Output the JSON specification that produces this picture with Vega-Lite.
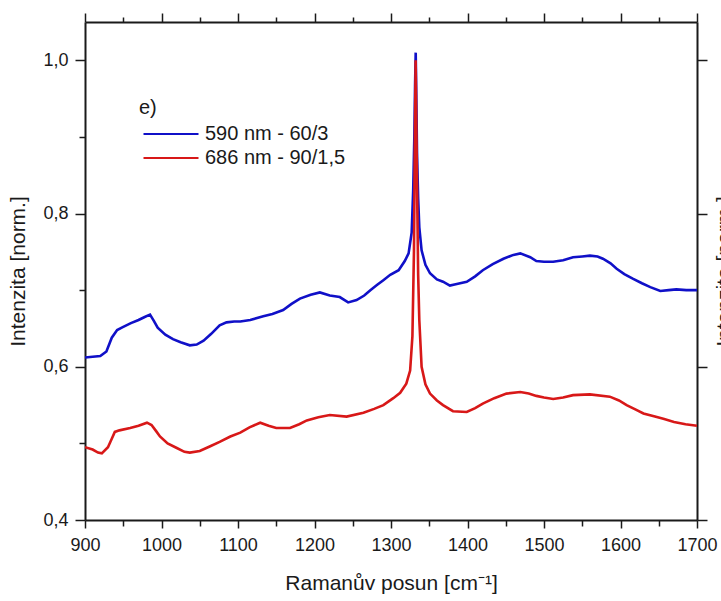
{
  "$schema": "https://vega.github.io/schema/vega-lite/v6.json",
  "autosize": "none",
  "width": 612,
  "height": 498,
  "padding": {"left": 85, "top": 22, "right": 24, "bottom": 81},
  "background": "white",
  "config": {
    "font": "Liberation Sans",
    "view": {"stroke": null},
    "axis": {"grid": false, "domainColor": "#1a1a1a", "tickColor": "#1a1a1a", "labelColor": "#1a1a1a", "titleColor": "#1a1a1a", "domainWidth": 2, "tickWidth": 1.5, "labelFont": "Liberation Sans", "titleFont": "Liberation Sans", "titleFontWeight": "normal", "labelFontSize": 18, "titleFontSize": 21},
    "legend": {"labelFont": "Liberation Sans", "titleFont": "Liberation Sans"}
  },
  "data": {"values": [
    {"s": "590 nm - 60/3", "x": 900, "y": 0.612},
    {"s": "590 nm - 60/3", "x": 910, "y": 0.613},
    {"s": "590 nm - 60/3", "x": 920, "y": 0.614},
    {"s": "590 nm - 60/3", "x": 928, "y": 0.620},
    {"s": "590 nm - 60/3", "x": 935, "y": 0.638},
    {"s": "590 nm - 60/3", "x": 942, "y": 0.648},
    {"s": "590 nm - 60/3", "x": 950, "y": 0.652},
    {"s": "590 nm - 60/3", "x": 960, "y": 0.657},
    {"s": "590 nm - 60/3", "x": 970, "y": 0.661},
    {"s": "590 nm - 60/3", "x": 978, "y": 0.665},
    {"s": "590 nm - 60/3", "x": 985, "y": 0.668},
    {"s": "590 nm - 60/3", "x": 990, "y": 0.660},
    {"s": "590 nm - 60/3", "x": 995, "y": 0.651},
    {"s": "590 nm - 60/3", "x": 1005, "y": 0.642},
    {"s": "590 nm - 60/3", "x": 1015, "y": 0.636},
    {"s": "590 nm - 60/3", "x": 1025, "y": 0.632},
    {"s": "590 nm - 60/3", "x": 1037, "y": 0.628},
    {"s": "590 nm - 60/3", "x": 1046, "y": 0.629},
    {"s": "590 nm - 60/3", "x": 1055, "y": 0.634},
    {"s": "590 nm - 60/3", "x": 1065, "y": 0.643},
    {"s": "590 nm - 60/3", "x": 1076, "y": 0.654},
    {"s": "590 nm - 60/3", "x": 1085, "y": 0.658},
    {"s": "590 nm - 60/3", "x": 1095, "y": 0.659},
    {"s": "590 nm - 60/3", "x": 1103, "y": 0.659},
    {"s": "590 nm - 60/3", "x": 1116, "y": 0.661},
    {"s": "590 nm - 60/3", "x": 1133, "y": 0.666},
    {"s": "590 nm - 60/3", "x": 1145, "y": 0.669},
    {"s": "590 nm - 60/3", "x": 1159, "y": 0.674},
    {"s": "590 nm - 60/3", "x": 1170, "y": 0.682},
    {"s": "590 nm - 60/3", "x": 1181, "y": 0.689},
    {"s": "590 nm - 60/3", "x": 1195, "y": 0.694},
    {"s": "590 nm - 60/3", "x": 1207, "y": 0.697},
    {"s": "590 nm - 60/3", "x": 1220, "y": 0.693},
    {"s": "590 nm - 60/3", "x": 1233, "y": 0.691},
    {"s": "590 nm - 60/3", "x": 1244, "y": 0.684},
    {"s": "590 nm - 60/3", "x": 1255, "y": 0.687},
    {"s": "590 nm - 60/3", "x": 1265, "y": 0.693},
    {"s": "590 nm - 60/3", "x": 1273, "y": 0.700},
    {"s": "590 nm - 60/3", "x": 1282, "y": 0.707},
    {"s": "590 nm - 60/3", "x": 1290, "y": 0.713},
    {"s": "590 nm - 60/3", "x": 1299, "y": 0.720},
    {"s": "590 nm - 60/3", "x": 1310, "y": 0.726},
    {"s": "590 nm - 60/3", "x": 1318, "y": 0.738},
    {"s": "590 nm - 60/3", "x": 1323, "y": 0.748},
    {"s": "590 nm - 60/3", "x": 1327, "y": 0.775},
    {"s": "590 nm - 60/3", "x": 1329, "y": 0.83},
    {"s": "590 nm - 60/3", "x": 1330.5, "y": 0.90},
    {"s": "590 nm - 60/3", "x": 1331.5, "y": 0.97},
    {"s": "590 nm - 60/3", "x": 1332.3, "y": 1.01},
    {"s": "590 nm - 60/3", "x": 1333, "y": 0.96},
    {"s": "590 nm - 60/3", "x": 1334, "y": 0.88},
    {"s": "590 nm - 60/3", "x": 1335.5, "y": 0.82},
    {"s": "590 nm - 60/3", "x": 1337, "y": 0.782},
    {"s": "590 nm - 60/3", "x": 1340, "y": 0.752},
    {"s": "590 nm - 60/3", "x": 1345, "y": 0.733},
    {"s": "590 nm - 60/3", "x": 1351, "y": 0.722},
    {"s": "590 nm - 60/3", "x": 1360, "y": 0.714},
    {"s": "590 nm - 60/3", "x": 1368, "y": 0.711},
    {"s": "590 nm - 60/3", "x": 1377, "y": 0.706},
    {"s": "590 nm - 60/3", "x": 1386, "y": 0.708},
    {"s": "590 nm - 60/3", "x": 1399, "y": 0.711},
    {"s": "590 nm - 60/3", "x": 1410, "y": 0.718},
    {"s": "590 nm - 60/3", "x": 1420, "y": 0.726},
    {"s": "590 nm - 60/3", "x": 1433, "y": 0.734},
    {"s": "590 nm - 60/3", "x": 1447, "y": 0.741},
    {"s": "590 nm - 60/3", "x": 1460, "y": 0.746},
    {"s": "590 nm - 60/3", "x": 1469, "y": 0.748},
    {"s": "590 nm - 60/3", "x": 1482, "y": 0.743},
    {"s": "590 nm - 60/3", "x": 1490, "y": 0.738},
    {"s": "590 nm - 60/3", "x": 1500, "y": 0.737},
    {"s": "590 nm - 60/3", "x": 1512, "y": 0.737},
    {"s": "590 nm - 60/3", "x": 1525, "y": 0.739},
    {"s": "590 nm - 60/3", "x": 1538, "y": 0.743},
    {"s": "590 nm - 60/3", "x": 1550, "y": 0.744},
    {"s": "590 nm - 60/3", "x": 1560, "y": 0.745},
    {"s": "590 nm - 60/3", "x": 1570, "y": 0.744},
    {"s": "590 nm - 60/3", "x": 1577, "y": 0.741},
    {"s": "590 nm - 60/3", "x": 1587, "y": 0.735},
    {"s": "590 nm - 60/3", "x": 1595, "y": 0.728},
    {"s": "590 nm - 60/3", "x": 1605, "y": 0.721},
    {"s": "590 nm - 60/3", "x": 1616, "y": 0.715},
    {"s": "590 nm - 60/3", "x": 1628, "y": 0.709},
    {"s": "590 nm - 60/3", "x": 1639, "y": 0.704},
    {"s": "590 nm - 60/3", "x": 1652, "y": 0.699},
    {"s": "590 nm - 60/3", "x": 1663, "y": 0.700},
    {"s": "590 nm - 60/3", "x": 1673, "y": 0.701},
    {"s": "590 nm - 60/3", "x": 1686, "y": 0.700},
    {"s": "590 nm - 60/3", "x": 1700, "y": 0.700},
    {"s": "686 nm - 90/1,5", "x": 900, "y": 0.495},
    {"s": "686 nm - 90/1,5", "x": 910, "y": 0.492},
    {"s": "686 nm - 90/1,5", "x": 917, "y": 0.488},
    {"s": "686 nm - 90/1,5", "x": 922, "y": 0.487},
    {"s": "686 nm - 90/1,5", "x": 930, "y": 0.495},
    {"s": "686 nm - 90/1,5", "x": 935, "y": 0.506},
    {"s": "686 nm - 90/1,5", "x": 939, "y": 0.515},
    {"s": "686 nm - 90/1,5", "x": 945, "y": 0.517},
    {"s": "686 nm - 90/1,5", "x": 959, "y": 0.520},
    {"s": "686 nm - 90/1,5", "x": 970, "y": 0.523},
    {"s": "686 nm - 90/1,5", "x": 981, "y": 0.527},
    {"s": "686 nm - 90/1,5", "x": 987, "y": 0.524},
    {"s": "686 nm - 90/1,5", "x": 993, "y": 0.516},
    {"s": "686 nm - 90/1,5", "x": 998, "y": 0.509},
    {"s": "686 nm - 90/1,5", "x": 1008, "y": 0.500},
    {"s": "686 nm - 90/1,5", "x": 1020, "y": 0.494},
    {"s": "686 nm - 90/1,5", "x": 1030, "y": 0.489},
    {"s": "686 nm - 90/1,5", "x": 1037, "y": 0.488},
    {"s": "686 nm - 90/1,5", "x": 1050, "y": 0.490},
    {"s": "686 nm - 90/1,5", "x": 1063, "y": 0.496},
    {"s": "686 nm - 90/1,5", "x": 1076, "y": 0.502},
    {"s": "686 nm - 90/1,5", "x": 1090, "y": 0.509},
    {"s": "686 nm - 90/1,5", "x": 1103, "y": 0.514},
    {"s": "686 nm - 90/1,5", "x": 1115, "y": 0.521},
    {"s": "686 nm - 90/1,5", "x": 1129, "y": 0.527},
    {"s": "686 nm - 90/1,5", "x": 1140, "y": 0.523},
    {"s": "686 nm - 90/1,5", "x": 1150, "y": 0.520},
    {"s": "686 nm - 90/1,5", "x": 1168, "y": 0.520},
    {"s": "686 nm - 90/1,5", "x": 1180, "y": 0.525},
    {"s": "686 nm - 90/1,5", "x": 1190, "y": 0.530},
    {"s": "686 nm - 90/1,5", "x": 1205, "y": 0.534},
    {"s": "686 nm - 90/1,5", "x": 1220, "y": 0.537},
    {"s": "686 nm - 90/1,5", "x": 1242, "y": 0.535},
    {"s": "686 nm - 90/1,5", "x": 1264, "y": 0.540},
    {"s": "686 nm - 90/1,5", "x": 1278, "y": 0.545},
    {"s": "686 nm - 90/1,5", "x": 1290, "y": 0.550},
    {"s": "686 nm - 90/1,5", "x": 1303, "y": 0.559},
    {"s": "686 nm - 90/1,5", "x": 1312, "y": 0.566},
    {"s": "686 nm - 90/1,5", "x": 1320, "y": 0.578},
    {"s": "686 nm - 90/1,5", "x": 1325, "y": 0.595},
    {"s": "686 nm - 90/1,5", "x": 1328, "y": 0.64},
    {"s": "686 nm - 90/1,5", "x": 1330, "y": 0.75},
    {"s": "686 nm - 90/1,5", "x": 1331, "y": 0.87},
    {"s": "686 nm - 90/1,5", "x": 1332.2, "y": 1.00},
    {"s": "686 nm - 90/1,5", "x": 1333.3, "y": 0.90},
    {"s": "686 nm - 90/1,5", "x": 1334.5, "y": 0.80},
    {"s": "686 nm - 90/1,5", "x": 1335.5, "y": 0.72},
    {"s": "686 nm - 90/1,5", "x": 1337, "y": 0.661},
    {"s": "686 nm - 90/1,5", "x": 1340, "y": 0.600},
    {"s": "686 nm - 90/1,5", "x": 1345, "y": 0.577},
    {"s": "686 nm - 90/1,5", "x": 1351, "y": 0.565},
    {"s": "686 nm - 90/1,5", "x": 1360, "y": 0.556},
    {"s": "686 nm - 90/1,5", "x": 1368, "y": 0.550},
    {"s": "686 nm - 90/1,5", "x": 1381, "y": 0.542},
    {"s": "686 nm - 90/1,5", "x": 1399, "y": 0.541},
    {"s": "686 nm - 90/1,5", "x": 1410, "y": 0.546},
    {"s": "686 nm - 90/1,5", "x": 1420, "y": 0.552},
    {"s": "686 nm - 90/1,5", "x": 1435, "y": 0.559},
    {"s": "686 nm - 90/1,5", "x": 1451, "y": 0.565},
    {"s": "686 nm - 90/1,5", "x": 1469, "y": 0.567},
    {"s": "686 nm - 90/1,5", "x": 1480, "y": 0.565},
    {"s": "686 nm - 90/1,5", "x": 1490, "y": 0.562},
    {"s": "686 nm - 90/1,5", "x": 1500, "y": 0.560},
    {"s": "686 nm - 90/1,5", "x": 1512, "y": 0.558},
    {"s": "686 nm - 90/1,5", "x": 1525, "y": 0.560},
    {"s": "686 nm - 90/1,5", "x": 1538, "y": 0.563},
    {"s": "686 nm - 90/1,5", "x": 1560, "y": 0.564},
    {"s": "686 nm - 90/1,5", "x": 1586, "y": 0.561},
    {"s": "686 nm - 90/1,5", "x": 1598, "y": 0.556},
    {"s": "686 nm - 90/1,5", "x": 1608, "y": 0.550},
    {"s": "686 nm - 90/1,5", "x": 1620, "y": 0.544},
    {"s": "686 nm - 90/1,5", "x": 1630, "y": 0.539},
    {"s": "686 nm - 90/1,5", "x": 1645, "y": 0.535},
    {"s": "686 nm - 90/1,5", "x": 1656, "y": 0.532},
    {"s": "686 nm - 90/1,5", "x": 1670, "y": 0.528},
    {"s": "686 nm - 90/1,5", "x": 1685, "y": 0.525},
    {"s": "686 nm - 90/1,5", "x": 1700, "y": 0.523}
  ]},
  "resolve": {"axis": {"x": "independent", "y": "independent"}},
  "layer": [
    {
      "mark": {"type": "line", "strokeWidth": 2.6, "clip": true},
      "encoding": {
        "x": {"field": "x", "type": "quantitative",
          "scale": {"domain": [900, 1700], "nice": false, "zero": false},
          "axis": {"orient": "bottom", "title": "Ramanův posun [cm⁻¹]",
            "values": [900, 950, 1000, 1050, 1100, 1150, 1200, 1250, 1300, 1350, 1400, 1450, 1500, 1550, 1600, 1650, 1700],
            "labelExpr": "datum.value % 100 == 0 ? format(datum.value, 'd') : ''",
            "tickSize": {"condition": {"test": "datum.value % 100 == 0", "value": 8}, "value": 6},
            "labelPadding": 8, "titlePadding": 18, "labelFlush": false}},
        "y": {"field": "y", "type": "quantitative",
          "scale": {"domain": [0.4, 1.05], "nice": false, "zero": false},
          "axis": {"orient": "left", "title": "Intenzita [norm.]",
            "values": [0.4, 0.5, 0.6, 0.7, 0.8, 0.9, 1.0],
            "labelExpr": "round(datum.value*10) % 2 == 0 ? replace(format(datum.value, '.1f'), '.', ',') : ''",
            "tickSize": {"condition": {"test": "round(datum.value*10) % 2 == 0", "value": 10}, "value": 6},
            "labelPadding": 7, "titlePadding": 14}},
        "color": {"field": "s", "type": "nominal",
          "scale": {"domain": ["590 nm - 60/3", "686 nm - 90/1,5"], "range": ["#1010c8", "#d81818"]},
          "legend": {"orient": "none", "legendX": 54, "legendY": 76, "title": "e)",
            "titleFontSize": 20, "titleFontWeight": "normal", "titleColor": "#1a1a1a", "titlePadding": 6,
            "labelFontSize": 20, "labelColor": "#1a1a1a", "labelOffset": 46,
            "symbolType": "M-1,0H9", "symbolSize": 121, "symbolStrokeWidth": 2, "rowPadding": 4}}
      }
    },
    {
      "mark": {"type": "line", "strokeOpacity": 0, "clip": true},
      "encoding": {
        "x": {"field": "x", "type": "quantitative",
          "axis": {"orient": "top", "title": null, "labels": false,
            "values": [900, 950, 1000, 1050, 1100, 1150, 1200, 1250, 1300, 1350, 1400, 1450, 1500, 1550, 1600, 1650, 1700],
            "tickSize": {"condition": {"test": "datum.value % 100 == 0", "value": 9}, "value": 5}}},
        "y": {"field": "y", "type": "quantitative",
          "axis": {"orient": "right", "title": "Intenzita [norm.]", "labels": false,
            "values": [0.4, 0.6, 0.8, 1.0], "tickSize": 10, "titlePadding": 27, "titleAngle": -90}},
        "detail": {"field": "s"}
      }
    }
  ]
}
